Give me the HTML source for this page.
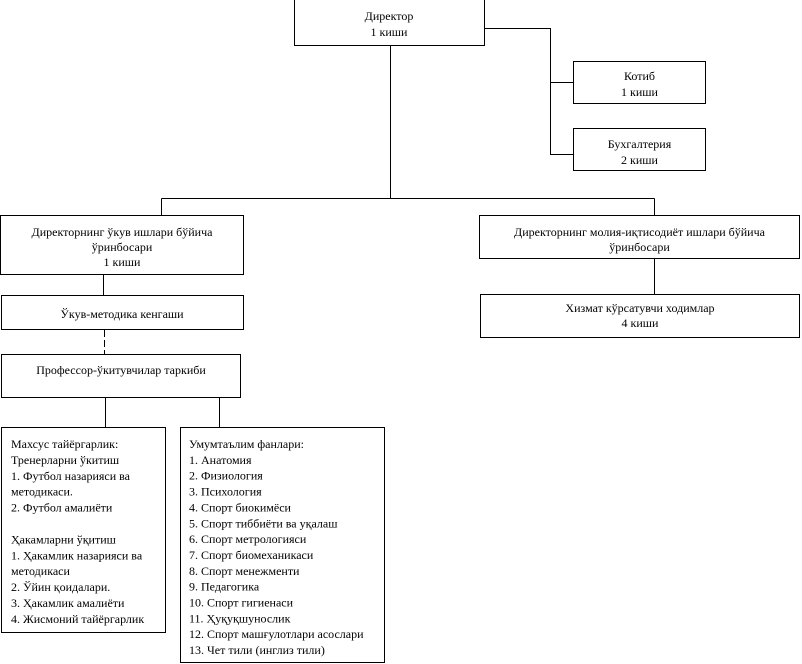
<!DOCTYPE html>
<html>
<head>
<meta charset="utf-8">
<style>
html,body{margin:0;padding:0;background:#fff;}
svg{display:block;}
text{font-family:"Liberation Serif","DejaVu Serif",serif;font-size:12px;fill:#000;}
</style>
</head>
<body>
<svg width="802" height="664" viewBox="0 0 802 664" xmlns="http://www.w3.org/2000/svg">
<g fill="none" stroke="#000" stroke-width="1" shape-rendering="crispEdges">
  <!-- Director -->
  <rect x="294.5" y="-0.5" width="190" height="46"/>
  <!-- right connectors -->
  <path d="M484 28.5H550.5V154.5H573M550.5 82.5H573"/>
  <rect x="573.5" y="61.5" width="132" height="42"/>
  <rect x="573.5" y="128.5" width="132" height="42"/>
  <!-- main trunk -->
  <path d="M390.5 45V198.5M161.5 198.5H654.5M161.5 198.5V216M654.5 198.5V216"/>
  <!-- left deputy -->
  <rect x="0.5" y="215.5" width="243" height="59"/>
  <!-- right deputy -->
  <rect x="479.5" y="215.5" width="320" height="43"/>
  <path d="M654.5 258V294"/>
  <rect x="480.5" y="294.5" width="319" height="43"/>
  <!-- left chain -->
  <path d="M103.5 274V295"/>
  <rect x="1.5" y="295.5" width="242" height="34"/>
  <path d="M104.5 330V354" stroke-dasharray="7 3"/>
  <rect x="1.5" y="354.5" width="239" height="43"/>
  <path d="M105.5 397V427M219.5 397V427"/>
  <rect x="1.5" y="427.5" width="164" height="205"/>
  <rect x="180.5" y="427.5" width="204" height="235"/>
</g>

<g text-anchor="middle">
  <text x="389" y="20">Директор</text>
  <text x="389" y="36">1 киши</text>
  <text x="639.5" y="80">Котиб</text>
  <text x="639.5" y="96">1 киши</text>
  <text x="639.5" y="148">Бухгалтерия</text>
  <text x="639.5" y="164">2 киши</text>
  <text x="122" y="236">Директорнинг ўкув ишлари бўйича</text>
  <text x="122" y="251">ўринбосари</text>
  <text x="122" y="266">1 киши</text>
  <text x="639.5" y="236">Директорнинг молия-иқтисодиёт ишлари бўйича</text>
  <text x="639.5" y="251">ўринбосари</text>
  <text x="640" y="312">Хизмат кўрсатувчи ходимлар</text>
  <text x="640" y="327">4 киши</text>
  <text x="122" y="318">Ўкув-методика кенгаши</text>
  <text x="121" y="374">Профессор-ўкитувчилар таркиби</text>
</g>

<g>
  <text x="11" y="448">Махсус тайёргарлик:</text>
  <text x="11" y="463.9">Тренерларни ўкитиш</text>
  <text x="11" y="479.8">1. Футбол назарияси ва</text>
  <text x="11" y="495.7">методикаси.</text>
  <text x="11" y="511.6">2. Футбол амалиёти</text>
  <text x="11" y="543.4">Ҳакамларни ўқитиш</text>
  <text x="11" y="559.3">1. Ҳакамлик назарияси ва</text>
  <text x="11" y="575.2">методикаси</text>
  <text x="11" y="591.1">2. Ўйин қоидалари.</text>
  <text x="11" y="607">3. Ҳакамлик амалиёти</text>
  <text x="11" y="622.9">4. Жисмоний тайёргарлик</text>
</g>

<g>
  <text x="189" y="448">Умумтаълим фанлари:</text>
  <text x="189" y="463.85">1. Анатомия</text>
  <text x="189" y="479.7">2. Физиология</text>
  <text x="189" y="495.55">3. Психология</text>
  <text x="189" y="511.4">4. Спорт биокимёси</text>
  <text x="189" y="527.25">5. Спорт тиббиёти ва уқалаш</text>
  <text x="189" y="543.1">6. Спорт метрологияси</text>
  <text x="189" y="558.95">7. Спорт биомеханикаси</text>
  <text x="189" y="574.8">8. Спорт менежменти</text>
  <text x="189" y="590.65">9. Педагогика</text>
  <text x="189" y="606.5">10. Спорт гигиенаси</text>
  <text x="189" y="622.35">11. Ҳуқуқшунослик</text>
  <text x="189" y="638.2">12. Спорт машғулотлари асослари</text>
  <text x="189" y="654.05">13. Чет тили (инглиз тили)</text>
</g>
</svg>
</body>
</html>
